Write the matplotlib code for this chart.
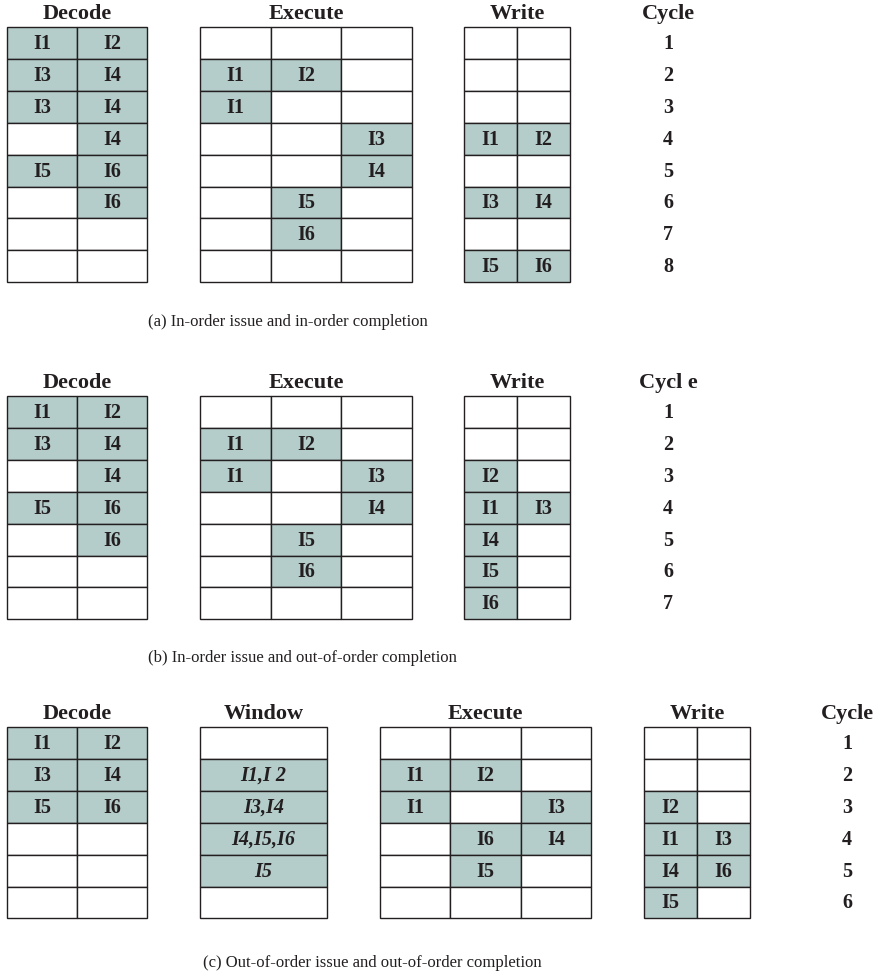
import matplotlib
matplotlib.use("Agg")
import matplotlib.pyplot as plt
from matplotlib.patches import Rectangle

plt.rcParams['font.family'] = ['Liberation Serif', 'DejaVu Serif']

FILL = '#b4cdca'
EDGE = '#231f20'
TXT = '#231f20'

# ---- data: pipeline tables, one list of rows per stage ----
a_decode = [['I1', 'I2'], ['I3', 'I4'], ['I3', 'I4'], ['', 'I4'],
            ['I5', 'I6'], ['', 'I6'], ['', ''], ['', '']]
a_execute = [['', '', ''], ['I1', 'I2', ''], ['I1', '', ''], ['', '', 'I3'],
             ['', '', 'I4'], ['', 'I5', ''], ['', 'I6', ''], ['', '', '']]
a_write = [['', ''], ['', ''], ['', ''], ['I1', 'I2'],
           ['', ''], ['I3', 'I4'], ['', ''], ['I5', 'I6']]
a_cycles = ['1', '2', '3', '4', '5', '6', '7', '8']

b_decode = [['I1', 'I2'], ['I3', 'I4'], ['', 'I4'], ['I5', 'I6'],
            ['', 'I6'], ['', ''], ['', '']]
b_execute = [['', '', ''], ['I1', 'I2', ''], ['I1', '', 'I3'], ['', '', 'I4'],
             ['', 'I5', ''], ['', 'I6', ''], ['', '', '']]
b_write = [['', ''], ['', ''], ['I2', ''], ['I1', 'I3'],
           ['I4', ''], ['I5', ''], ['I6', '']]
b_cycles = ['1', '2', '3', '4', '5', '6', '7']

c_decode = [['I1', 'I2'], ['I3', 'I4'], ['I5', 'I6'], ['', ''], ['', ''], ['', '']]
c_window = [[''], ['I1,I 2'], ['I3,I4'], ['I4,I5,I6'], ['I5'], ['']]
c_execute = [['', '', ''], ['I1', 'I2', ''], ['I1', '', 'I3'], ['', 'I6', 'I4'],
             ['', 'I5', ''], ['', '', '']]
c_write = [['', ''], ['', ''], ['I2', ''], ['I1', 'I3'], ['I4', 'I6'], ['I5', '']]
c_cycles = ['1', '2', '3', '4', '5', '6']

captions = ['(a) In-order issue and in-order completion',
            '(b) In-order issue and out-of-order completion',
            '(c) Out-of-order issue and out-of-order completion']

ROW_H = 31.9
FS = 14.5      # cell text
FS_HEAD = 16   # column headers

fig = plt.figure(figsize=(8.74, 9.76), dpi=100)
ax = fig.add_axes([0, 0, 1, 1])
ax.set_xlim(0, 874)
ax.set_ylim(976, 0)
ax.axis('off')


def draw_table(rows, x0, x1, top, title, italic=False):
    ncol = len(rows[0])
    cw = (x1 - x0) / ncol
    for r, row in enumerate(rows):
        y = top + r * ROW_H
        for c, val in enumerate(row):
            x = x0 + c * cw
            ax.add_patch(Rectangle((x, y), cw, ROW_H, facecolor=FILL if val else 'white',
                                   edgecolor=EDGE, lw=1.0))
            if val:
                ax.text(x + cw / 2, y + ROW_H / 2 + 1, val, ha='center', va='center',
                        fontsize=FS, fontweight='bold', color=TXT,
                        style='italic' if italic else 'normal')
    ax.text((x0 + x1) / 2, top - 13, title, ha='center', va='center',
            fontsize=FS_HEAD, fontweight='bold', color=TXT)


def draw_cycles(cycles, x, top, title):
    ax.text(x, top - 13, title, ha='center', va='center', fontsize=FS_HEAD,
            fontweight='bold', color=TXT)
    for r, c in enumerate(cycles):
        ax.text(x, top + r * ROW_H + ROW_H / 2 + 1, c, ha='center', va='center',
                fontsize=FS, fontweight='bold', color=TXT)


# panel (a)
top = 27
draw_table(a_decode, 7, 147, top, 'Decode')
draw_table(a_execute, 200, 412, top, 'Execute')
draw_table(a_write, 464, 570, top, 'Write')
draw_cycles(a_cycles, 668, top, 'Cycle')
ax.text(148, 322, captions[0], ha='left', va='center', fontsize=12, color=TXT)

# panel (b)
top = 396
draw_table(b_decode, 7, 147, top, 'Decode')
draw_table(b_execute, 200, 412, top, 'Execute')
draw_table(b_write, 464, 570, top, 'Write')
draw_cycles(b_cycles, 668, top, 'Cycl e')
ax.text(148, 658, captions[1], ha='left', va='center', fontsize=12, color=TXT)

# panel (c)
top = 727
draw_table(c_decode, 7, 147, top, 'Decode')
draw_table(c_window, 200, 327, top, 'Window', italic=True)
draw_table(c_execute, 380, 591, top, 'Execute')
draw_table(c_write, 644, 750, top, 'Write')
draw_cycles(c_cycles, 847, top, 'Cycle')
ax.text(203, 963, captions[2], ha='left', va='center', fontsize=12, color=TXT)

fig.savefig('out.png', dpi=100, facecolor='white')
